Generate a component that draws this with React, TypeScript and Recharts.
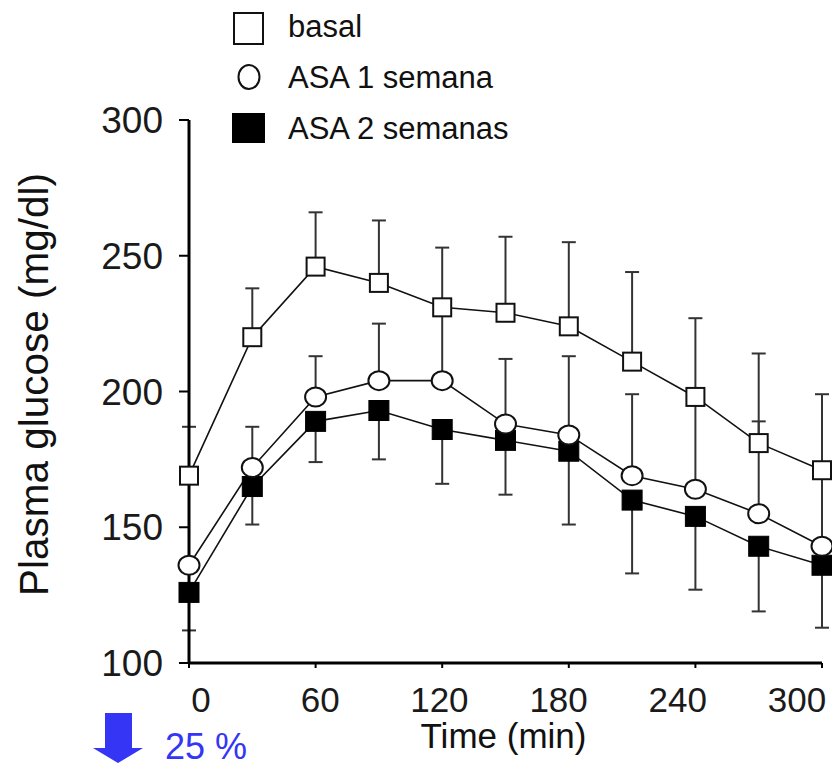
import React from "react";
import { LineChart, Line, XAxis, YAxis, ErrorBar } from "recharts";

const times = [0, 30, 60, 90, 120, 150, 180, 210, 240, 270, 300];
const basal = [169, 220, 246, 240, 231, 229, 224, 211, 198, 181, 171];
const basalErr = [18, 18, 20, 23, 22, 28, 31, 33, 29, 33, 28];
const asa1 = [136, 172, 198, 204, 204, 188, 184, 169, 164, 155, 143];
const asa1Err = [0, 15, 15, 21, 25, 24, 29, 30, 33, 34, 28];
const asa2 = [126, 165, 189, 193, 186, 182, 178, 160, 154, 143, 136];
const asa2Err = [14, 14, 15, 18, 20, 20, 27, 27, 27, 24, 23];

const xTicks = [0, 60, 120, 180, 240, 300];
const yTicks = [100, 150, 200, 250, 300];
const seriesNames = ["basal", "ASA 1 semana", "ASA 2 semanas"];
const changeLabel = "25 %";

// basal and ASA 1 only show the upper bar, ASA 2 only the lower one
const data = times.map((t, i) => ({
  time: t,
  basal: basal[i],
  basalErr: [0, basalErr[i]],
  asa1: asa1[i],
  asa1Err: [0, asa1Err[i]],
  asa2: asa2[i],
  asa2Err: [asa2Err[i], 0],
}));

const FONT = '"Liberation Sans", Arial, Helvetica, sans-serif';
const BLUE = "#3535f5";

const OpenSquare = (props: any) => {
  const { cx, cy } = props;
  if (cx == null || cy == null) return null;
  return <rect x={cx - 9} y={cy - 9} width={18} height={18} fill="#fff" stroke="#111" strokeWidth={2} />;
};

const OpenCircle = (props: any) => {
  const { cx, cy } = props;
  if (cx == null || cy == null) return null;
  return <ellipse cx={cx} cy={cy} rx={10.5} ry={9.5} fill="#fff" stroke="#111" strokeWidth={2} />;
};

const FilledSquare = (props: any) => {
  const { cx, cy } = props;
  if (cx == null || cy == null) return null;
  return <rect x={cx - 10} y={cy - 10} width={20} height={20} fill="#000" stroke="#000" strokeWidth={1} />;
};

const YLabel = (props: any) => {
  const vb = props.viewBox;
  const cx = vb.x + 34;
  const cy = vb.y + vb.height / 2 - 7;
  return (
    <text
      x={cx}
      y={cy}
      transform={`rotate(-90 ${cx} ${cy})`}
      textAnchor="middle"
      dominantBaseline="central"
      fontSize={40.5}
      fill="#111"
      fontFamily={FONT}
    >
      Plasma glucose (mg/dl)
    </text>
  );
};

const XLabel = (props: any) => {
  const vb = props.viewBox;
  return (
    <text x={vb.x + vb.width / 2 - 2} y={vb.y + 61} textAnchor="middle" fontSize={35} fill="#111" fontFamily={FONT}>
      Time (min)
    </text>
  );
};

function Overlay() {
  return (
    <svg width={832} height={766} style={{ position: "absolute", left: 0, top: 0, pointerEvents: "none" }}>
      <g fontFamily={FONT} fontSize={31} fill="#111">
        <rect x={234} y={13} width={29} height={31} fill="#fff" stroke="#111" strokeWidth={2} />
        <text x={288} y={37}>{seriesNames[0]}</text>
        <ellipse cx={249} cy={77} rx={10.5} ry={12} fill="#fff" stroke="#111" strokeWidth={2} />
        <text x={288} y={88}>{seriesNames[1]}</text>
        <rect x={232} y={113} width={33} height={30} fill="#000" />
        <text x={288} y={139}>{seriesNames[2]}</text>
      </g>
      <rect x={105} y={713} width={27} height={36} fill={BLUE} />
      <polygon points="93,748 143,748 118,763" fill={BLUE} />
      <text x={165} y={759} fontSize={36} fill={BLUE} fontFamily={FONT}>
        {changeLabel}
      </text>
    </svg>
  );
}

export default function App() {
  return (
    <div style={{ position: "absolute", left: 0, top: 0, width: 832, height: 766, background: "#fff" }}>
      <LineChart width={832} height={766} data={data} margin={{ top: 120, right: 10, bottom: 0, left: 0 }}>
        <XAxis
          xAxisId="a"
          dataKey="time"
          type="number"
          domain={[0, 300]}
          ticks={xTicks}
          height={24}
          axisLine={{ stroke: "#000", strokeWidth: 3 }}
          tickLine={{ stroke: "#000", strokeWidth: 2 }}
          tickSize={5}
          tickFormatter={() => ""}
        />
        {/* tick labels in the source sit on a slightly narrower scale than the tick marks */}
        <XAxis
          xAxisId="b"
          dataKey="time"
          type="number"
          domain={[0, 300]}
          ticks={xTicks}
          interval={0}
          height={79}
          padding={{ left: 12, right: 25 }}
          axisLine={false}
          tickLine={false}
          tickSize={0}
          tickMargin={0}
          tick={{ fontSize: 35, fill: "#1a1a1a", fontFamily: FONT }}
          label={{ content: XLabel }}
        />
        <YAxis
          domain={[100, 300]}
          ticks={yTicks}
          width={189}
          axisLine={{ stroke: "#000", strokeWidth: 3 }}
          tickLine={{ stroke: "#000", strokeWidth: 2 }}
          tickSize={10}
          tickMargin={16}
          tick={{ fontSize: 37, fill: "#1a1a1a", fontFamily: FONT }}
          label={{ content: YLabel }}
        />
        <Line
          xAxisId="a"
          dataKey="asa2"
          name={seriesNames[2]}
          stroke="#111"
          strokeWidth={1.6}
          dot={<FilledSquare />}
          isAnimationActive={false}
        >
          <ErrorBar dataKey="asa2Err" direction="y" width={7} stroke="#333" strokeWidth={2} />
        </Line>
        <Line
          xAxisId="a"
          dataKey="asa1"
          name={seriesNames[1]}
          stroke="#111"
          strokeWidth={1.6}
          dot={<OpenCircle />}
          isAnimationActive={false}
        >
          <ErrorBar dataKey="asa1Err" direction="y" width={7} stroke="#333" strokeWidth={2} />
        </Line>
        <Line
          xAxisId="a"
          dataKey="basal"
          name={seriesNames[0]}
          stroke="#111"
          strokeWidth={1.6}
          dot={<OpenSquare />}
          isAnimationActive={false}
        >
          <ErrorBar dataKey="basalErr" direction="y" width={7} stroke="#333" strokeWidth={2} />
        </Line>
      </LineChart>
      <Overlay />
    </div>
  );
}
